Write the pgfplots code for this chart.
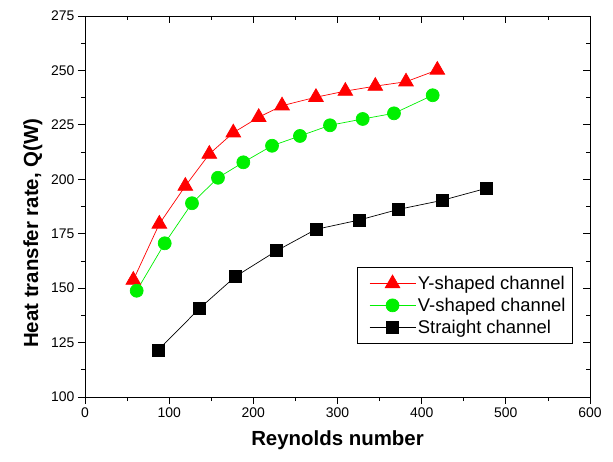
\documentclass[border=0pt]{standalone}
\usepackage{pgfplots}
\pgfplotsset{compat=1.18}
\usepackage{fontspec}
\setmainfont{Liberation Sans}
\definecolor{ored}{RGB}{255,0,0}
\definecolor{ogreen}{RGB}{0,240,0}
\begin{document}
\begin{tikzpicture}
\begin{axis}[
  scale only axis, width=505bp, height=381bp,
  xmin=0, xmax=600, ymin=100, ymax=275,
  xtick={0,100,...,600}, ytick={100,125,...,275},
  minor x tick num=1, minor y tick num=1,
  xtick pos=bottom, ytick pos=left,
  tick align=outside,
  major tick length=7bp, minor tick length=4bp,
  tick style={black, line width=0.8bp},
  axis line style={line width=0.9bp},
  /pgf/number format/assume math mode=true,
  /pgf/number format/1000 sep={},
  ticklabel style={font=\fontsize{14}{16}\selectfont},
  xlabel={\textbf{Reynolds number}},
  ylabel={\textbf{Heat transfer rate, Q(W)}},
  label style={font=\fontsize{20.5}{24}\selectfont},
  xlabel style={yshift=-6bp},
  ylabel style={at={(ticklabel cs:0.43)}, yshift=2bp},
  legend style={at={(0.966,0.139)}, anchor=south east, draw=black, line width=0.8bp,
    font=\fontsize{18.5}{22}\selectfont, row sep=3bp, inner xsep=5bp, inner ysep=7bp,
    cells={anchor=west}},
  legend image code/.code={\path (0bp,0bp); \draw[mark repeat=2,mark phase=2] plot coordinates {(7bp,0bp)(30bp,0bp)(53bp,0bp)};},
]
\addplot[ored, line width=0.7bp, mark=triangle*, mark size=8.5bp, mark options={solid, fill=ored, draw=ored}] coordinates {
(57.4,153.7)(88.3,179.5)(119.2,196.9)(147.7,211.6)(176.2,221.4)(206.4,228.5)
(234.1,233.8)(274.4,237.7)(309.3,240.5)(344.9,242.8)(381.4,244.8)(418.6,250.2)};
\addlegendentry{Y-shaped channel}
\addplot[ogreen, line width=0.7bp, mark=*, mark size=6.5bp, mark options={solid, fill=ogreen, draw=ogreen}] coordinates {
(61.4,148.8)(94.7,170.6)(127.1,189.0)(158.0,200.7)(188.1,207.8)(222.2,215.4)
(255.4,219.9)(291.1,224.8)(329.9,227.7)(367.1,230.3)(413.1,238.6)};
\addlegendentry{V-shaped channel}
\addplot[black, line width=0.7bp, mark=square*, mark size=6bp, mark options={solid, fill=black}] coordinates {
(87.1,121.6)(135.8,140.6)(178.6,155.3)(227.8,167.2)(274.4,177.0)(325.9,181.3)
(372.7,186.2)(424.1,190.3)(476.4,195.8)};
\addlegendentry{Straight channel}
\end{axis}
\begin{axis}[
  scale only axis, width=505bp, height=381bp,
  xmin=0, xmax=600, ymin=100, ymax=275,
  xtick={0,100,...,600}, ytick={100,125,...,275},
  minor x tick num=1, minor y tick num=1,
  xtick pos=top, ytick pos=right,
  tick align=inside,
  xticklabels={}, yticklabels={},
  major tick length=7bp, minor tick length=4bp,
  tick style={black, line width=0.8bp},
  axis line style={line width=0.9bp},
]
\end{axis}
\path (current axis.south west) ++(-85bp,-65bp) (current axis.north east) ++(23bp,16bp);
\end{tikzpicture}
\end{document}
